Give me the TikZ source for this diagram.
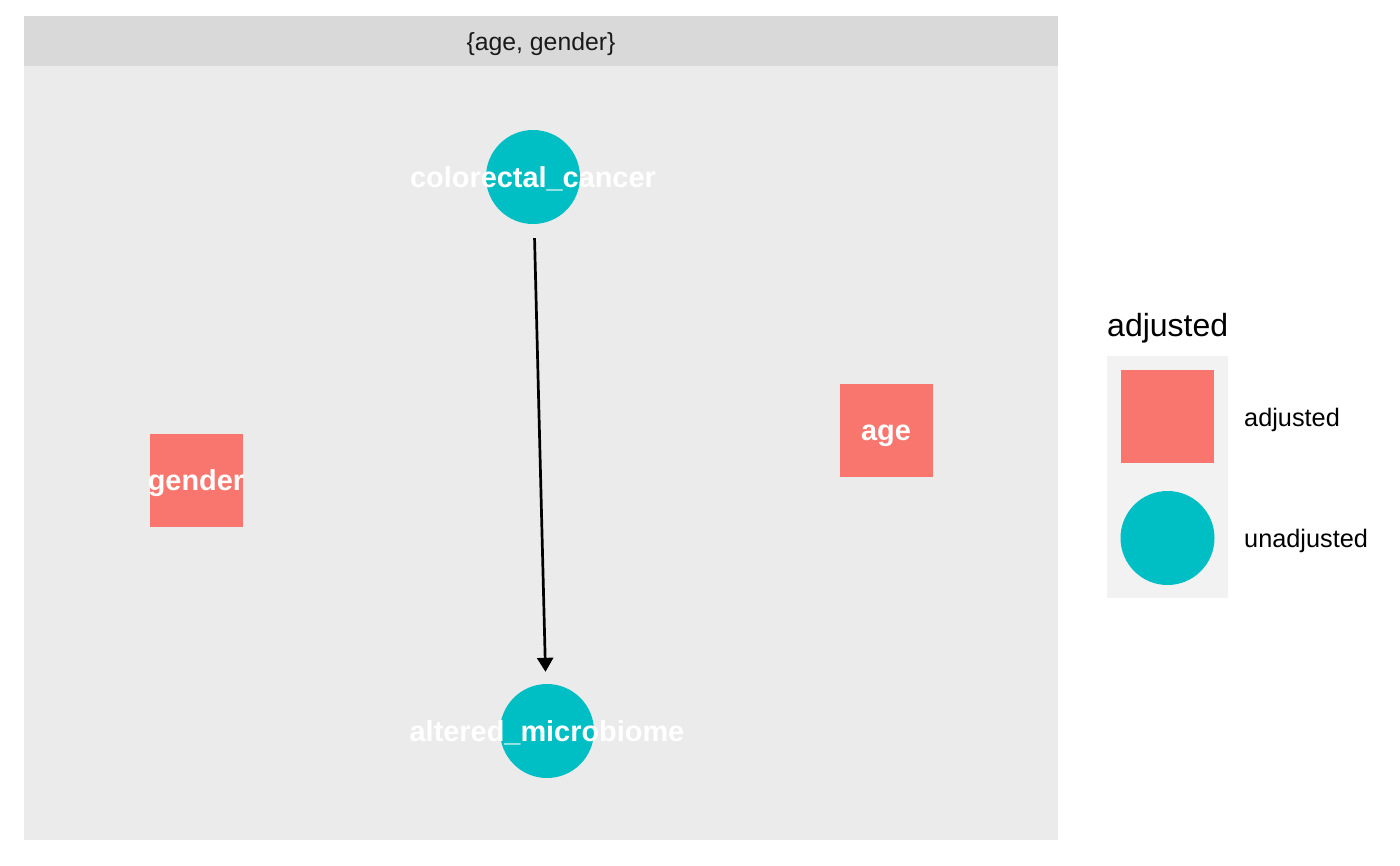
\documentclass[tikz,border=0pt]{standalone}
\usepackage{fontspec}
\setmainfont{Liberation Sans}
\usetikzlibrary{arrows.meta}
\definecolor{salmon}{HTML}{F8766D}
\definecolor{teal}{HTML}{00BFC4}
\definecolor{panelbg}{HTML}{EBEBEB}
\definecolor{stripbg}{HTML}{D9D9D9}
\definecolor{keybg}{HTML}{F2F2F2}
\definecolor{striptext}{HTML}{1A1A1A}
\tikzset{
  unadj/.style={circle,fill=teal,draw=none,minimum size=94pt,inner sep=0pt},
  adj/.style={rectangle,fill=salmon,draw=none,minimum size=93pt,inner sep=0pt},
  lbl/.style={text=white,font=\bfseries\fontsize{28.9}{34}\selectfont,anchor=base,inner sep=0pt},
  legtext/.style={font=\fontsize{25.3}{30}\selectfont,anchor=base west,inner sep=0pt},
  edge/.style={line width=2.7pt,-{Triangle[length=14pt,width=16pt]},shorten <=14pt,shorten >=12pt}
}
\begin{document}
\begin{tikzpicture}[x=1pt,y=-1pt]
\useasboundingbox[fill=white] (0,0) rectangle (1400,865);
% panel
\fill[panelbg] (24,66) rectangle (1058,840);
\fill[stripbg] (24,16) rectangle (1058,66);
\node[font=\fontsize{24.8}{30}\selectfont,text=striptext,anchor=base,inner sep=0pt] (strip) at (541,50) {\{age, gender\}};
% nodes
\node[unadj] (cc) at (533,177) {};
\node[unadj] (am) at (547,731) {};
\node[adj] (gender) at (196,480) {};
\node[adj] (age) at (886,430) {};
\node[lbl] (cclbl) at (533,187.5) {colorectal\_cancer};
\node[lbl] (amlbl) at (547,741.5) {altered\_microbiome};
\node[lbl] (genderlbl) at (196,490.5) {gender};
\node[lbl] (agelbl) at (886,440.5) {age};
% edge
\draw[edge] (cc) -- (am);
% legend
\node[font=\fontsize{32}{38}\selectfont,anchor=base west,inner sep=0pt] (legtitle) at (1107,336) {adjusted};
\fill[keybg] (1107,356) rectangle (1228,598);
\node[adj] (legadj) at (1167.5,416.5) {};
\node[unadj] (legunadj) at (1167.5,538) {};
\node[legtext] (legadjlbl) at (1244,426) {adjusted};
\node[legtext] (legunadjlbl) at (1244,547) {unadjusted};
\end{tikzpicture}
\end{document}
